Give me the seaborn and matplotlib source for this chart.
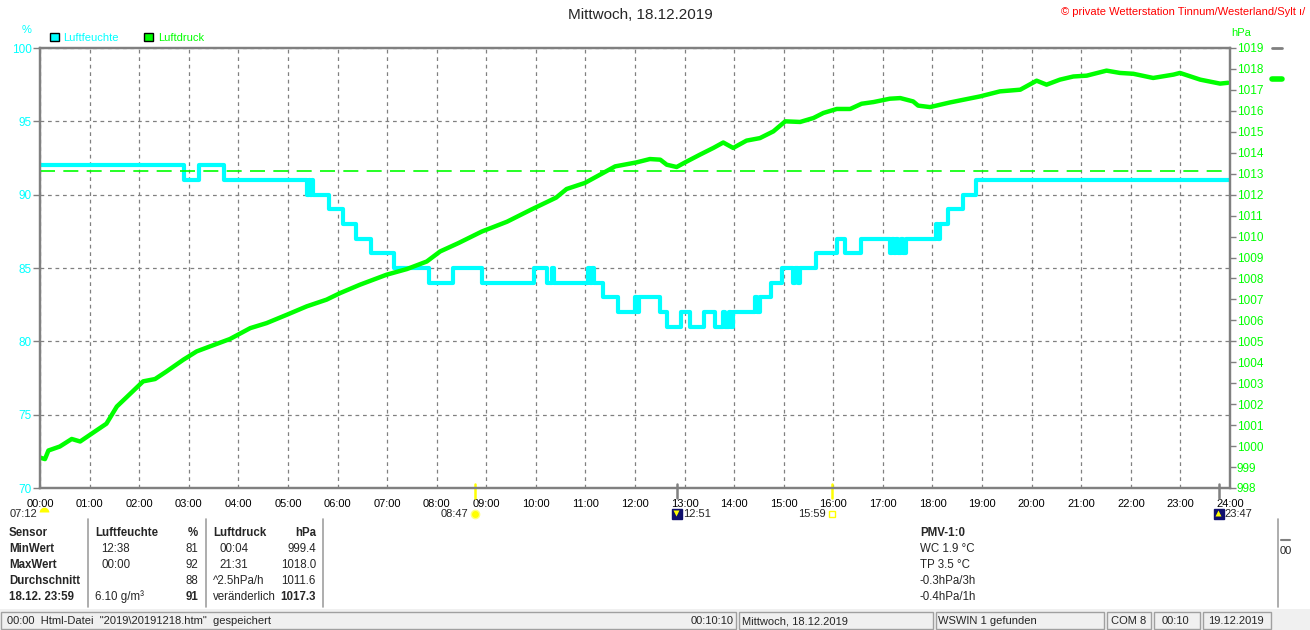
import matplotlib
matplotlib.use('Agg')
import matplotlib.pyplot as plt
import seaborn as sns
from matplotlib.patches import Patch, Rectangle
from matplotlib.lines import Line2D

# x axis
hours = list(range(25))
hour_labels = ['%02d:00' % h for h in hours]

# Luftfeuchte (%), step values
hum_hours = [0.00, 2.90, 3.20, 3.72, 5.38, 5.42, 5.45, 5.48, 5.51, 5.83, 6.11, 6.37, 6.68,
             7.14, 7.84, 8.33, 8.91, 9.97, 10.22, 10.33, 10.37, 11.06, 11.10, 11.14, 11.18,
             11.35, 11.66, 12.00, 12.04, 12.08, 12.50, 12.64, 12.93, 13.11, 13.40, 13.61,
             13.78, 13.82, 13.90, 13.94, 13.98, 14.42, 14.46, 14.52, 14.74, 14.96, 15.19,
             15.23, 15.28, 15.33, 15.65, 16.08, 16.24, 16.55, 17.14, 17.18, 17.22, 17.27,
             17.31, 17.36, 17.40, 17.46, 18.07, 18.11, 18.15, 18.31, 18.61, 18.88, 24.00]
hum_values = [92, 91, 92, 91, 90, 91, 90, 91, 90, 89, 88, 87, 86,
              85, 84, 85, 84, 85, 84, 85, 84, 85, 84, 85, 84,
              83, 82, 83, 82, 83, 82, 81, 82, 81, 82, 81,
              82, 81, 82, 81, 82, 83, 82, 83, 84, 85, 84,
              85, 84, 85, 86, 87, 86, 87, 86, 87, 86, 87,
              86, 87, 86, 87, 88, 87, 88, 89, 90, 91, 91]

# Luftdruck (hPa)
pres_hours = [0.00, 0.10, 0.17, 0.40, 0.64, 0.81, 1.04, 1.34, 1.55, 1.82, 2.08, 2.32, 2.55,
              2.89, 3.16, 3.43, 3.83, 4.24, 4.57, 4.98, 5.38, 5.78, 6.05, 6.45, 6.99, 7.40,
              7.80, 8.07, 8.44, 8.91, 9.42, 9.90, 10.41, 10.62, 10.99, 11.60, 12.03, 12.30,
              12.51, 12.64, 12.84, 13.01, 13.31, 13.58, 13.78, 13.98, 14.25, 14.52, 14.79,
              15.03, 15.33, 15.60, 15.80, 16.07, 16.34, 16.57, 16.81, 17.14, 17.35, 17.61,
              17.71, 17.95, 18.35, 18.96, 19.36, 19.77, 20.10, 20.30, 20.57, 20.84, 21.11,
              21.51, 21.78, 22.05, 22.45, 22.86, 22.99, 23.40, 23.80, 23.96]
pres_values = [999.45, 999.38, 999.79, 999.98, 1000.34, 1000.22, 1000.59, 1001.07, 1001.89,
               1002.50, 1003.09, 1003.20, 1003.56, 1004.12, 1004.52, 1004.76, 1005.11,
               1005.63, 1005.87, 1006.27, 1006.67, 1006.99, 1007.30, 1007.70, 1008.18,
               1008.45, 1008.81, 1009.29, 1009.69, 1010.24, 1010.71, 1011.28, 1011.86,
               1012.27, 1012.56, 1013.35, 1013.54, 1013.70, 1013.67, 1013.43, 1013.32,
               1013.54, 1013.91, 1014.23, 1014.49, 1014.23, 1014.58, 1014.70, 1015.02,
               1015.50, 1015.47, 1015.66, 1015.90, 1016.09, 1016.09, 1016.34, 1016.42,
               1016.58, 1016.61, 1016.45, 1016.25, 1016.18, 1016.40, 1016.69, 1016.93,
               1017.01, 1017.44, 1017.25, 1017.49, 1017.64, 1017.68, 1017.92, 1017.81,
               1017.77, 1017.57, 1017.73, 1017.81, 1017.49, 1017.30, 1017.34]
ref_pressure = 1013.15

# sun / moon events shown under the time axis
event_hours = [0.0, 8.78, 12.85, 15.98, 23.78]
event_labels = ['07:12', '08:47', '12:51', '15:59', '23:47']

CYAN = '#00ffff'
GREEN = '#00ff00'
GRAY = '#808080'
W, H = 1310, 630

def fx(x):
    return x / W

def fy(y):
    return 1 - y / H

sns.set_style('white')
plt.rcParams['font.family'] = ['Liberation Sans', 'DejaVu Sans']

fig = plt.figure(figsize=(13.1, 6.3), dpi=100)
ax = fig.add_axes([fx(40), fy(488), 1190 / W, 440 / H])
ax2 = ax.twinx()

sns.lineplot(x=hum_hours, y=hum_values, ax=ax, color=CYAN, lw=3.0,
             drawstyle='steps-post', estimator=None, legend=False)
sns.lineplot(x=pres_hours, y=pres_values, ax=ax2, color=GREEN, lw=3.2,
             estimator=None, legend=False)
ax2.axhline(ref_pressure, color=GREEN, lw=1.2, dashes=(9, 5))

ax.set_xlim(0, 24)
ax.set_ylim(70, 100)
ax2.set_ylim(998, 1019)
ax.set_xticks(hours)
ax.set_xticklabels(hour_labels)
ax.set_yticks(range(70, 101, 5))
ax2.set_yticks(range(998, 1020))
for a in (ax, ax2):
    a.set_xlabel('')
    a.set_ylabel('')
    for s in a.spines.values():
        s.set_color(GRAY)
        s.set_linewidth(1.6)

ax.grid(True, color=GRAY, ls=(0, (3, 3)), lw=0.9)
ax.set_axisbelow(True)
ax.tick_params(axis='x', colors=GRAY, labelcolor='black', length=6, width=1,
               labelsize=8, pad=2)
ax.tick_params(axis='y', colors=GRAY, labelcolor=CYAN, length=5, width=1,
               labelsize=8.5, pad=1)
ax2.tick_params(axis='y', colors=GRAY, labelcolor=GREEN, length=4, width=1,
                labelsize=8.5, pad=1)

# small stub of the next panel right of the pressure scale
ax2.plot([24.85, 25.05], [ax2.get_ylim()[1]] * 2, color=GRAY, lw=2, clip_on=False)
ax2.plot([24.85, 25.05], [pres_values[-1] + 0.2] * 2, color=GREEN, lw=4, clip_on=False)

# event markers under the axis
tr = ax.get_xaxis_transform()
for h, lab in zip(event_hours, event_labels):
    if lab == '07:12':
        ax.plot([h + 0.08], [-0.055], transform=tr, clip_on=False, marker='o',
                fillstyle='top', ms=7, mfc='yellow', mfcalt='none', mec='none')
        ax.annotate(lab, (h, -0.059), xycoords=tr, xytext=(-2, 0),
                    textcoords='offset points', ha='right', va='center', fontsize=8)
    elif lab in ('08:47', '15:59'):
        ax.plot([h, h], [0.01, -0.022], transform=tr, clip_on=False, color='yellow', lw=1.8)
        if lab == '08:47':
            ax.plot([h], [-0.059], transform=tr, clip_on=False, marker='o', ms=6,
                    mfc='yellow', mec='#ffff80', mew=1)
        else:
            ax.plot([h], [-0.059], transform=tr, clip_on=False, marker='s', ms=4,
                    mfc='none', mec='yellow', mew=1)
        ax.annotate(lab, (h, -0.059), xycoords=tr, xytext=(-5, 0),
                    textcoords='offset points', ha='right', va='center', fontsize=8)
    else:
        ax.plot([h, h], [0.01, -0.022], transform=tr, clip_on=False, color=GRAY, lw=1.8)
        ax.plot([h], [-0.059], transform=tr, clip_on=False, marker='s', ms=7,
                mfc='#10106e', mec='#10106e')
        ax.plot([h - 0.03], [-0.056], transform=tr, clip_on=False,
                marker='v' if lab == '12:51' else '^', ms=4, mfc='yellow', mec='none')
        ax.annotate(lab, (h, -0.059), xycoords=tr, xytext=(4, 0),
                    textcoords='offset points', ha='left', va='center', fontsize=8)

# legend + titles
handles = [Patch(fc=CYAN, ec='black', lw=1), Patch(fc=GREEN, ec='black', lw=1)]
fig.legend(handles, ['Luftfeuchte', 'Luftdruck'], loc='center left',
           bbox_to_anchor=(fx(50), fy(38)), frameon=False, ncol=2, fontsize=8,
           labelcolor=[CYAN, GREEN], handlelength=0.8, handleheight=0.8,
           handletextpad=0.4, columnspacing=2.3, borderpad=0, borderaxespad=0)
fig.text(0.4885, fy(15), 'Mittwoch, 18.12.2019', ha='center', va='center', fontsize=11)
fig.text(fx(1305), fy(12), '\u00a9 private Wetterstation Tinnum/Westerland/Sylt \u0131/',
         ha='right', va='center', fontsize=8, color='red')
fig.text(fx(27), fy(30), '%', ha='center', va='center', fontsize=8, color=CYAN)
fig.text(fx(1241), fy(33), 'hPa', ha='center', va='center', fontsize=8, color=GREEN)

# summary table
rows_y = [533, 549, 565, 581, 597]
col0 = ['Sensor', 'MinWert', 'MaxWert', 'Durchschnitt', '18.12. 23:59']
hum_col = ['Luftfeuchte', '12:38', '00:00', '', '6.10 g/m\u00b3']
hum_val = ['%', '81', '92', '88', '91']
pres_col = ['Luftdruck', '00:04', '21:31', '^2.5hPa/h', 'ver\u00e4nderlich']
pres_val = ['hPa', '999.4', '1018.0', '1011.6', '1017.3']
pmv = ['PMV-1:0', 'WC 1.9 \u00b0C', 'TP 3.5 \u00b0C', '-0.3hPa/3h', '-0.4hPa/1h']
for i, y in enumerate(rows_y):
    hdr = 'bold' if i == 0 else 'normal'
    fig.text(fx(9), fy(y), col0[i], fontsize=8.3, weight='bold', va='center')
    fig.text(fx(95 if i in (0, 4) else 101), fy(y), hum_col[i], fontsize=8.3, weight=hdr, va='center')
    fig.text(fx(198), fy(y), hum_val[i], fontsize=8.3, va='center', ha='right',
             weight='bold' if i in (0, 4) else 'normal')
    fig.text(fx(213 if i in (0, 3, 4) else 219), fy(y), pres_col[i], fontsize=8.3, weight=hdr, va='center')
    fig.text(fx(316), fy(y), pres_val[i], fontsize=8.3, va='center', ha='right',
             weight='bold' if i in (0, 4) else 'normal')
    fig.text(fx(920), fy(y), pmv[i], fontsize=8.3, weight=hdr, va='center')
for x in (88, 206, 323, 1278):
    fig.add_artist(Line2D([fx(x), fx(x)], [fy(519), fy(607)], color='#a0a0a0', lw=1.2))
fig.add_artist(Line2D([fx(1281), fx(1290)], [fy(540), fy(540)], color=GRAY, lw=1.5))
fig.text(fx(1280), fy(551), '00', fontsize=8, va='center')

# status bar
fig.add_artist(Rectangle((0, 0), 1, fy(609), transform=fig.transFigure,
                         fc='#f0f0f0', ec='none'))
panels = [(1, 736), (739, 933), (936, 1104), (1107, 1151), (1154, 1200), (1203, 1271)]
for x0, x1 in panels:
    fig.add_artist(Rectangle((fx(x0), fy(629)), (x1 - x0) / W, 17 / H,
                             transform=fig.transFigure, fc='#f0f0f0', ec='#a0a0a0', lw=1))
status = [(7, '00:00  Html-Datei  "2019\\20191218.htm"  gespeichert', 'left'),
          (734, '00:10:10', 'right'), (742, 'Mittwoch, 18.12.2019', 'left'),
          (938, 'WSWIN 1 gefunden', 'left'), (1111, 'COM 8', 'left'),
          (1162, '00:10', 'left'), (1208, '19.12.2019', 'left')]
for x, t, ha in status:
    fig.text(fx(x), fy(621), t, fontsize=8, ha=ha, va='center')

fig.savefig('out.png', dpi=100, facecolor='white')
